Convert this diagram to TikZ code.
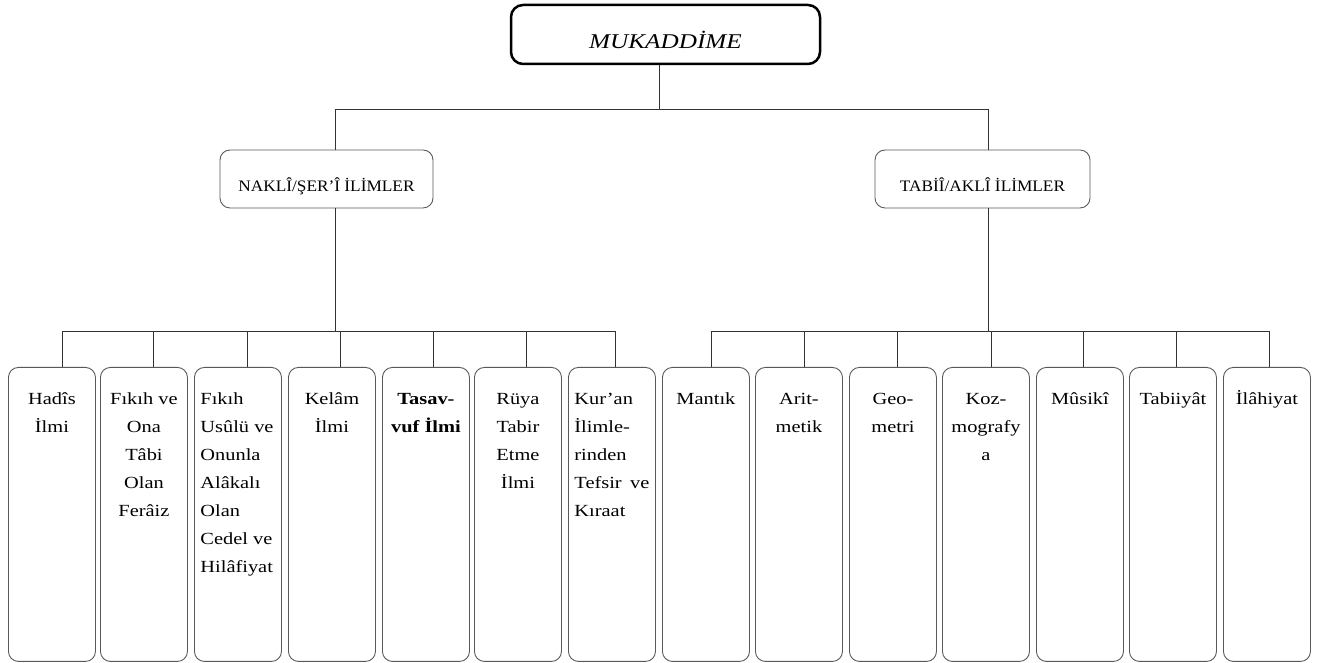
\documentclass[tikz,border=0pt]{standalone}
\usepackage{fontspec}
\setmainfont{Liberation Serif}[FakeStretch=1.2]
\newfontfamily\capsfont{Liberation Serif}[FakeStretch=1.08]
\usetikzlibrary{calc}
\newcommand\leafc[1]{\parbox[t][294pt][t]{75pt}{\fontsize{17}{28}\selectfont\centering\rule{0pt}{37pt}#1}}
\newcommand\leafl[1]{\parbox[t][294pt][t]{75pt}{\fontsize{17}{28}\selectfont\raggedright\rule{0pt}{37pt}#1}}
\tikzset{
  leaf/.style={draw=black!65, line width=0.9pt, rounded corners=10pt, inner xsep=6pt, inner ysep=0pt, anchor=north west},
  midbox/.style={draw=black!65, line width=0.9pt, rounded corners=10pt, minimum height=58pt, inner sep=0pt},
  topbox/.style={draw=black, line width=2.5pt, rounded corners=12pt, minimum width=309pt, minimum height=59pt, inner sep=0pt},
  conn/.style={draw=black!80, line width=0.8pt}
}
\begin{document}
\begin{tikzpicture}[x=1pt,y=1pt]
\useasboundingbox (0,0) rectangle (1320,663);
\coordinate (busL) at (0,332);
% top
\node[topbox] (top) at (665.5,628.5) {\raisebox{-14pt}[0pt][0pt]{\fontsize{21}{21}\selectfont\itshape MUKADDİME}};
\node[midbox, minimum width=213pt] (nak) at (326.5,484) {\raisebox{-12.5pt}[0pt][0pt]{\capsfont\fontsize{16}{16}\selectfont NAKLÎ/ŞER’Î İLİMLER}};
\node[midbox, minimum width=215pt] (tab) at (982.5,484) {\raisebox{-12.5pt}[0pt][0pt]{\capsfont\fontsize{16}{16}\selectfont TABİÎ/AKLÎ İLİMLER}};
% leaves
\node[leaf] (b1) at (8,296) {\leafc{Hadîs\\İlmi}};
\node[leaf] (b2) at (100,296) {\leafc{Fıkıh ve\\Ona\\Tâbi\\Olan\\Ferâiz}};
\node[leaf] (b3) at (194,296) {\leafl{Fıkıh\\Usûlü ve\\Onunla\\Alâkalı\\Olan\\Cedel ve\\Hilâfiyat}};
\node[leaf] (b4) at (288,296) {\leafc{Kelâm\\İlmi}};
\node[leaf] (b5) at (382,296) {\leafc{\bfseries Tasav-\\vuf İlmi}};
\node[leaf] (b6) at (474,296) {\leafc{Rüya\\Tabir\\Etme\\İlmi}};
\node[leaf] (b7) at (568,296) {\leafl{Kur’an\\İlimle-\\rinden\\Tefsir\hfill ve\\Kıraat}};
\node[leaf] (b8) at (662,296) {\leafc{Mantık}};
\node[leaf] (b9) at (755,296) {\leafc{Arit-\\metik}};
\node[leaf] (b10) at (849,296) {\leafc{Geo-\\metri}};
\node[leaf] (b11) at (942,296) {\leafc{Koz-\\mografy\\a}};
\node[leaf] (b12) at (1036,296) {\leafc{Mûsikî}};
\node[leaf] (b13) at (1129,296) {\leafc{Tabiiyât}};
\node[leaf] (b14) at (1223,296) {\leafc{İlâhiyat}};
% connectors top
\draw[conn] ([xshift=-6.5pt]top.south) -- ++(0,-44) -| ([xshift=8.5pt]nak.north);
\draw[conn] ([xshift=-6.5pt]top.south) -- ++(0,-44) -| ([xshift=5.5pt]tab.north);
% middle to buses
\draw[conn] ([xshift=8.5pt]nak.south) -- ([xshift=8.5pt]nak.south |- busL);
\draw[conn] ([xshift=5.5pt]tab.south) -- ([xshift=5.5pt]tab.south |- busL);
\draw[conn] ([xshift=10.5pt]b1.north) -- ++(0,36) -| ([xshift=3.5pt]b7.north);
\draw[conn] ([xshift=5.5pt]b8.north) -- ++(0,36) -| ([xshift=2.5pt]b14.north);
\foreach \i/\o in {2/9.5,3/9,4/8.5,5/7.5,6/8,9/5,10/4.5,11/5,12/3.5,13/3}
  \draw[conn] ([xshift=\o pt]b\i.north) -- ++(0,36);
\end{tikzpicture}
\end{document}
